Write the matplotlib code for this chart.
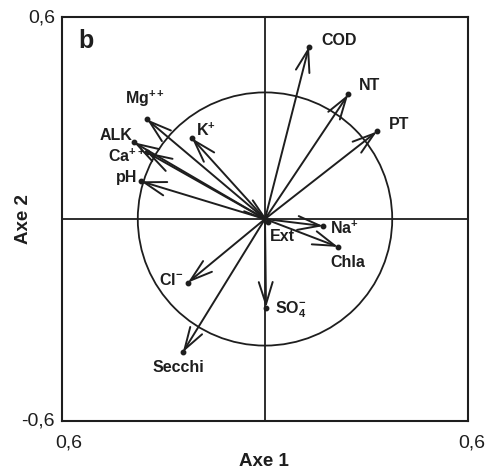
import matplotlib
matplotlib.use('Agg')
import matplotlib.pyplot as plt
from matplotlib.patches import Circle

plt.rcParams['font.family'] = ['Liberation Sans', 'DejaVu Sans']
plt.rcParams['mathtext.fontset'] = 'custom'
plt.rcParams['mathtext.rm'] = 'Liberation Sans:bold'
plt.rcParams['mathtext.bf'] = 'Liberation Sans:bold'
plt.rcParams['mathtext.default'] = 'bf'

# variable loadings on axes 1 and 2
variables = ['COD', 'NT', 'PT', 'Mg$^{++}$', 'ALK', 'Ca$^{++}$', 'pH', 'K$^{+}$',
             'Na$^{+}$', 'Chla', 'Ext', 'Cl$^{-}$', 'Secchi', 'SO$_{4}^{-}$']
axe1 = [0.130, 0.246, 0.331, -0.349, -0.388, -0.349, -0.367, -0.216,
        0.172, 0.216, 0.010, -0.228, -0.243, 0.003]
axe2 = [0.512, 0.370, 0.260, 0.296, 0.228, 0.198, 0.112, 0.240,
        -0.021, -0.083, -0.008, -0.189, -0.396, -0.263]
circle_radius = 0.376

# label placement (offset in pixels from the tip, alignment)
label_pos = {
    'COD': (12, 6, 'left'),
    'NT': (11, 9, 'left'),
    'PT': (12, 7, 'left'),
    'Mg$^{++}$': (-2, 20, 'center'),
    'ALK': (-1, 7, 'right'),
    'Ca$^{++}$': (-1, -4, 'right'),
    'pH': (-4, 4, 'right'),
    'K$^{+}$': (4, 8, 'left'),
    'Na$^{+}$': (7, -2, 'left'),
    'Chla': (10, -16, 'center'),
    'Ext': (1, -15, 'left'),
    'Cl$^{-}$': (-5, 3, 'right'),
    'Secchi': (-4, -15, 'center'),
    'SO$_{4}^{-}$': (9, -2, 'left'),
}

fig = plt.figure(figsize=(5.01, 4.74), dpi=100)
ax = fig.add_axes([62 / 501, 1 - 421 / 474, 406 / 501, 404 / 474])
ax.set_xlim(-0.6, 0.6)
ax.set_ylim(-0.6, 0.6)
ink = '#1e1e1e'

ax.axhline(0, color=ink, lw=1.3, zorder=1)
ax.axvline(0, color=ink, lw=1.3, zorder=1)
ax.add_patch(Circle((0, 0), circle_radius, fill=False, ec=ink, lw=1.3))

for name, x, y in zip(variables, axe1, axe2):
    ax.annotate('', xy=(x, y), xytext=(0, 0),
                arrowprops=dict(arrowstyle='->,head_length=1.6,head_width=0.5',
                                color=ink, lw=1.4, shrinkA=0, shrinkB=0,
                                mutation_scale=10))
    ax.plot(x, y, 'o', color=ink, ms=3.2)
    dx, dy, ha = label_pos[name]
    ax.annotate(name, xy=(x, y), xytext=(dx * 0.72, dy * 0.72),
                textcoords='offset points', ha=ha, va='center',
                fontsize=11.5, fontweight='bold', color=ink)

for s in ax.spines.values():
    s.set_linewidth(1.5)
    s.set_color(ink)
ax.set_xticks([])
ax.set_yticks([])

ax.text(0.06, 0.94, 'b', transform=ax.transAxes, fontsize=18,
        fontweight='bold', ha='center', va='center', color=ink)

# tick labels as printed in the original figure
fig.text(55 / 501, 1 - 18 / 474, '0,6', ha='right', va='center', fontsize=14, color=ink)
fig.text(55 / 501, 1 - 421 / 474, '-0,6', ha='right', va='center', fontsize=14, color=ink)
fig.text(69 / 501, 1 - 443 / 474, '0,6', ha='center', va='center', fontsize=14, color=ink)
fig.text(472 / 501, 1 - 443 / 474, '0,6', ha='center', va='center', fontsize=14, color=ink)
fig.text(264 / 501, 1 - 461 / 474, 'Axe 1', ha='center', va='center',
         fontsize=13.5, fontweight='bold', color=ink)
fig.text(24 / 501, 1 - 219 / 474, 'Axe 2', ha='center', va='center', rotation=90,
         fontsize=13.5, fontweight='bold', color=ink)

plt.savefig('out.png', dpi=100)
